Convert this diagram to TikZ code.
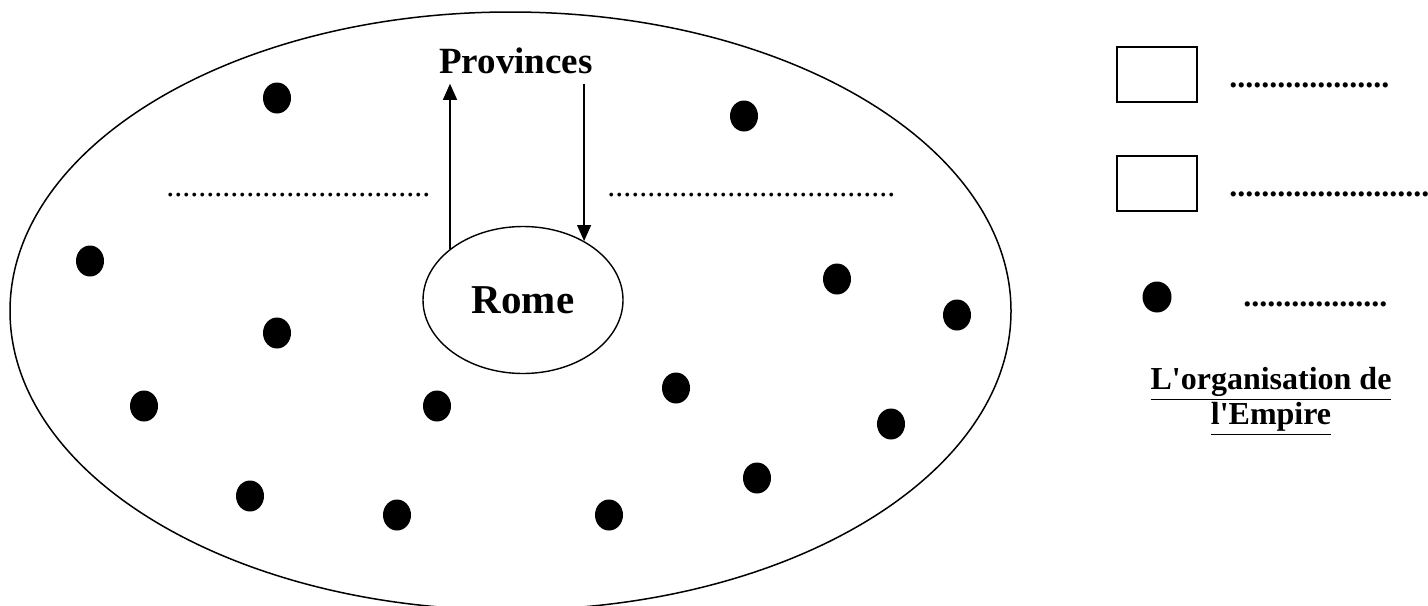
\documentclass[tikz,border=0pt]{standalone}
\usepackage{fontspec}
\setmainfont{Liberation Serif}
\usetikzlibrary{arrows.meta, shapes.geometric}
\newcommand{\pointilles}[1]{\foreach\k in {1,...,#1}{.}}

\begin{document}
\begin{tikzpicture}[
  x=0.5pt, y=-0.5pt,
  >={Triangle[length=8pt, width=7pt]},
  empire/.style={ellipse, draw, line width=0.75pt, minimum width=500.5pt, minimum height=299pt, inner sep=0pt},
  capital/.style={ellipse, draw, line width=0.7pt, minimum width=100pt, minimum height=73.5pt, inner sep=0pt,
                  font=\fontsize{20.5}{24}\selectfont\bfseries},
  ville/.style={ellipse, fill, minimum width=14pt, minimum height=15.5pt, inner sep=0pt},
  key/.style={draw, line width=0.6pt, minimum width=40pt, minimum height=27.5pt, inner sep=0pt},
  lbl/.style={font=\fontsize{18.5}{22}\selectfont\bfseries},
  blank/.style={font=\fontsize{16}{19}\selectfont, inner sep=0pt, anchor=base west},
  arr/.style={->, line width=0.6pt},
]
\useasboundingbox (0,0) rectangle (1428,605);

% ---------------- Empire and Rome ----------------
\node[empire] (empire) at (510.5,311) {};
\node[capital] (rome) at (523,300) {Rome};
\node[lbl, anchor=base, inner sep=5pt] (prov) at (516,73) {Provinces};

% ---------------- arrows Rome <-> provinces ----------------
\draw[arr] (rome.145.6) -- (rome.145.6 |- prov.south);
\draw[arr] (rome.44.4 |- prov.south) -- (rome.44.4);

% ---------------- lines to fill in ----------------
\node[blank] (gauche) at (166,196) {\pointilles{33}};
\node[blank] (droite) at (607,196) {\pointilles{36}};

% ---------------- provinces (dots) ----------------
\foreach \x/\y [count=\i] in {277/98, 744/116, 90/261, 837/279, 957/315, 277/333, 144/406,
                              437/406, 676/388, 891/424, 250/496, 397/515, 609/515, 757/478}
  \node[ville] (v\i) at (\x,\y) {};

% ---------------- legend ----------------
\node[key] (key1) at (1157,74.5) {};
\node[key] (key2) at (1157,183.5) {};
\node[ville, minimum width=14.5pt] (key3) at (1157,297) {};
\node[blank, font=\fontsize{16}{19}\selectfont\bfseries] (txt1) at (1229,87) {\pointilles{20}};
\node[blank, font=\fontsize{16}{19}\selectfont\bfseries] (txt2) at (1229,196) {\pointilles{25}};
\node[blank, font=\fontsize{16}{19}\selectfont\bfseries] (txt3) at (1243,306) {\pointilles{18}};

\node[font=\fontsize{16}{15.5}\selectfont\bfseries, align=center, inner sep=0pt] (titre) at (1271,401)
  {\underline{L\textquotesingle organisation de}\\\underline{l\textquotesingle Empire}};

\end{tikzpicture}
\end{document}
